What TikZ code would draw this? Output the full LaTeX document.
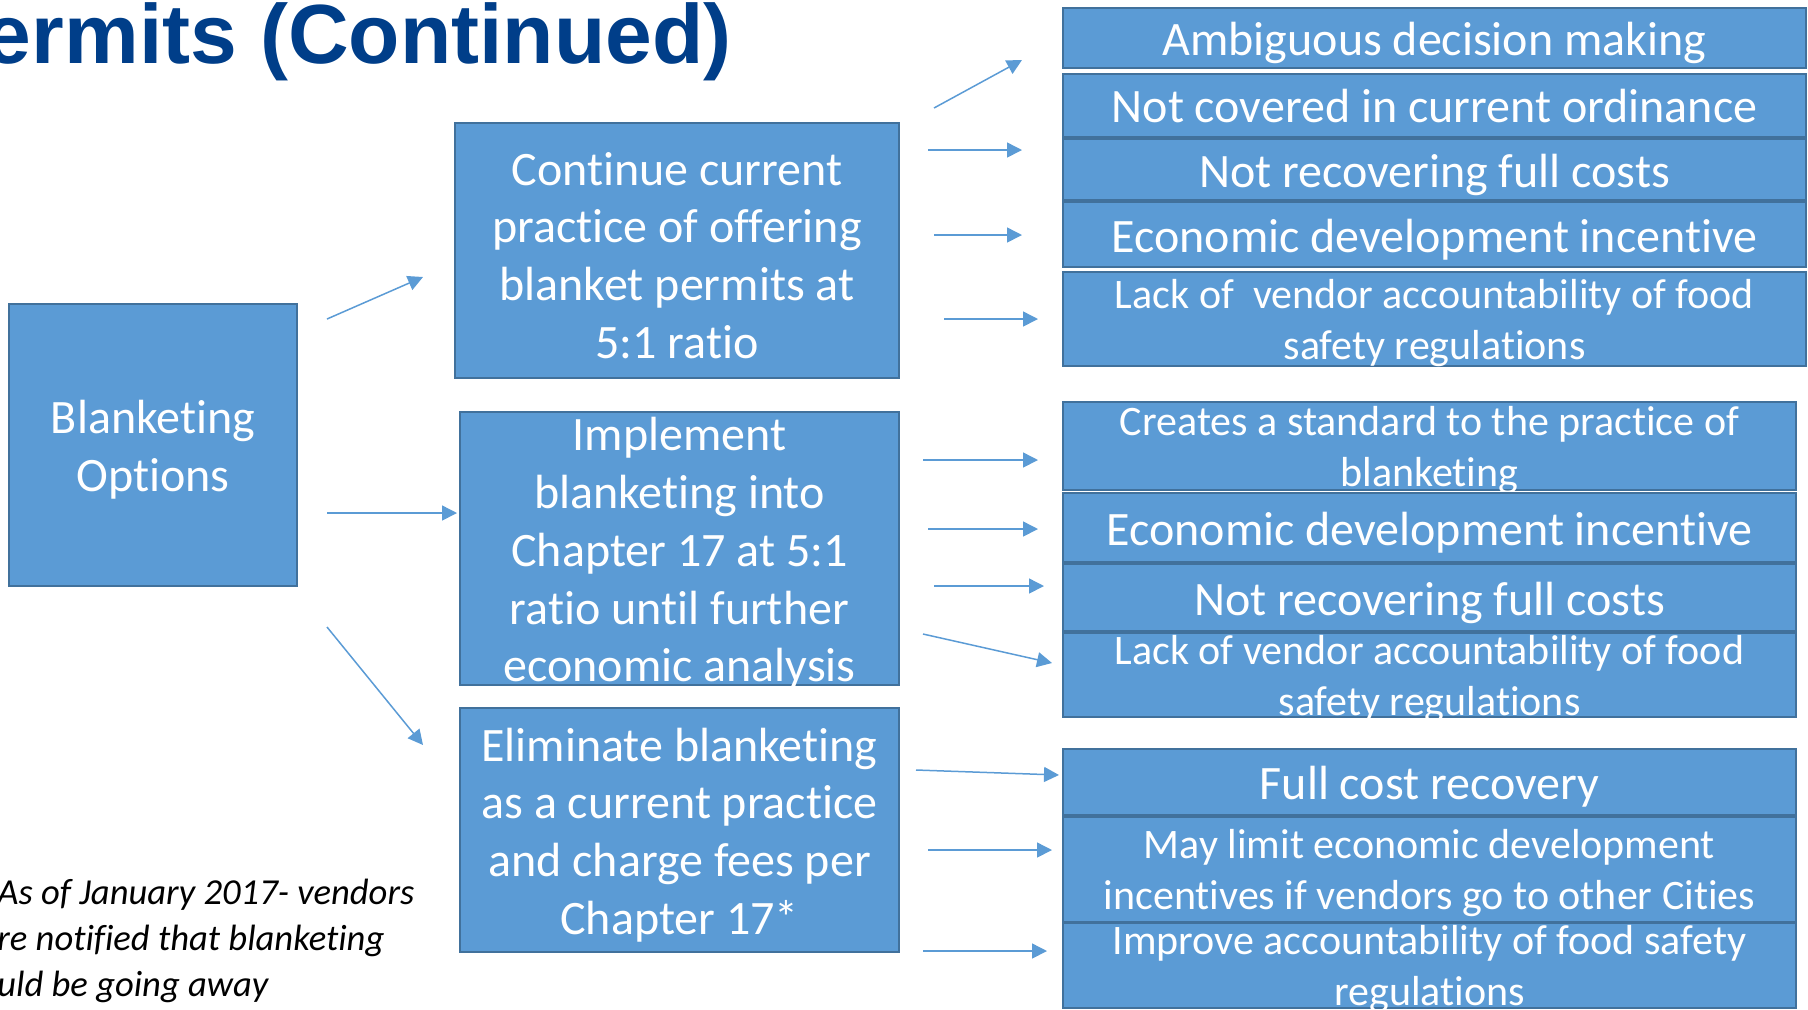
\documentclass[tikz,border=0pt]{standalone}
\usepackage{fontspec}
\setmainfont{Carlito}[Ligatures=NoCommon]
\newfontfamily\titlefont{Liberation Sans}
\usetikzlibrary{arrows.meta,positioning}

\definecolor{boxfill}{HTML}{5B9BD5}
\definecolor{boxline}{HTML}{41719C}
\definecolor{titleblue}{HTML}{003E89}

\tikzset{
  optbox/.style={draw=boxline,fill=boxfill,line width=1.3pt,inner sep=0pt},
  bigtext/.style={text=white,align=center,yshift=-2.5pt,font=\fontsize{24}{28.85}\selectfont},
  smalltext/.style={text=white,align=center,yshift=-2pt,font=\fontsize{21}{25.5}\selectfont},
  arr/.style={color=boxfill,line width=0.75pt,-{Triangle[length=7.5pt,width=7.5pt]}}
}

\begin{document}
\begin{tikzpicture}[x=0.5pt,y=-0.5pt]
  \useasboundingbox (0,0) rectangle (1808,1009);

  \node[anchor=base east,inner sep=0pt,text=titleblue,font=\titlefont\bfseries\fontsize{42}{50}\selectfont] (title) at (732,63) {ermits (Continued)};

  % options
  \node[optbox,minimum width=144pt,minimum height=141pt] (opts) at (153,445) {};
  \node[bigtext] (opts-t) at (opts) {Blanketing\\Options};
  \node[optbox,minimum width=222pt,minimum height=127.5pt] (cont) at (677,250.5) {};
  \node[bigtext] (cont-t) at (cont) {Continue current\\practice of offering\\blanket permits at\\5:1 ratio};
  \node[optbox,minimum width=219.5pt,minimum height=136.5pt] (impl) at (679.5,548.5) {};
  \node[bigtext] (impl-t) at (impl) {Implement\\blanketing into\\Chapter 17 at 5:1\\ratio until further\\economic analysis};
  \node[optbox,minimum width=219.5pt,minimum height=122pt] (elim) at (679.5,830) {};
  \node[bigtext] (elim-t) at (elim) {Eliminate blanketing\\as a current practice\\and charge fees per\\Chapter 17*};

  % continue current practice
  \node[optbox,minimum width=371.5pt,minimum height=30pt] (r1) at (1434.5,38) {};
  \node[bigtext] (r1-t) at (r1) {Ambiguous decision making};
  \node[optbox,minimum width=371.5pt,minimum height=31.5pt] (r2) at (1434.5,105.5) {};
  \node[bigtext,yshift=2.5pt] (r2-t) at (r2) {Not covered in current ordinance};
  \node[optbox,minimum width=371.5pt,minimum height=30.5pt] (r3) at (1434.5,169.5) {};
  \node[bigtext] (r3-t) at (r3) {Not recovering full costs};
  \node[optbox,minimum width=371.5pt,minimum height=32.5pt] (r4) at (1434.5,234.5) {};
  \node[bigtext] (r4-t) at (r4) {Economic development incentive};
  \node[optbox,minimum width=371.5pt,minimum height=47pt] (r5) at (1434.5,319) {};
  \node[smalltext] (r5-t) at (r5) {Lack of\ \ vendor accountability of food\\safety regulations};

  % implement
  \node[optbox,minimum width=366.5pt,minimum height=44pt] (m1) at (1429.5,446) {};
  \node[smalltext] (m1-t) at (m1) {Creates a standard to the practice of\\blanketing};
  \node[optbox,minimum width=366.5pt,minimum height=34.5pt] (m2) at (1429.5,527.5) {};
  \node[bigtext] (m2-t) at (m2) {Economic development incentive};
  \node[optbox,minimum width=366.5pt,minimum height=33.5pt] (m3) at (1429.5,597.5) {};
  \node[bigtext] (m3-t) at (m3) {Not recovering full costs};
  \node[optbox,minimum width=366.5pt,minimum height=42pt] (m4) at (1429.5,675) {};
  \node[smalltext] (m4-t) at (m4) {Lack of vendor accountability of food\\safety regulations};

  % eliminate
  \node[optbox,minimum width=366.5pt,minimum height=33pt] (b1) at (1429.5,782) {};
  \node[bigtext] (b1-t) at (b1) {Full cost recovery};
  \node[optbox,minimum width=366.5pt,minimum height=52.5pt] (b2) at (1429.5,869.5) {};
  \node[smalltext] (b2-t) at (b2) {May limit economic development\\incentives if vendors go to other Cities};
  \node[optbox,minimum width=366.5pt,minimum height=42.5pt] (b3) at (1429.5,965.5) {};
  \node[smalltext] (b3-t) at (b3) {Improve accountability of food safety\\regulations};

  \node[anchor=north west,align=left,inner sep=0pt,font=\itshape\fontsize{18.3}{23}\selectfont] (note) at (-3,879) {As of January 2017- vendors\\re notified that blanketing\\uld be going away};

  % arrow ends
  \coordinate (s1) at (327,319);  \coordinate (e1) at (423,277);
  \coordinate (s2) at (327,513);  \coordinate (e2) at (457,513);
  \coordinate (s3) at (327,627);  \coordinate (e3) at (423,745);
  \coordinate (s4) at (934,108);  \coordinate (e4) at (1022,60);
  \coordinate (s5) at (928,150);  \coordinate (e5) at (1022,150);
  \coordinate (s6) at (934,235);  \coordinate (e6) at (1022,235);
  \coordinate (s7) at (944,319);  \coordinate (e7) at (1038,319);
  \coordinate (s8) at (923,460);  \coordinate (e8) at (1038,460);
  \coordinate (s9) at (928,529);  \coordinate (e9) at (1038,529);
  \coordinate (s10) at (934,586); \coordinate (e10) at (1044,586);
  \coordinate (s11) at (923,634); \coordinate (e11) at (1052,663);
  \coordinate (s12) at (916,770); \coordinate (e12) at (1059,775);
  \coordinate (s13) at (928,850); \coordinate (e13) at (1052,850);
  \coordinate (s14) at (923,951); \coordinate (e14) at (1047,951);
  \path[arr]
    (s1) edge (e1)
    (s2) edge (e2)
    (s3) edge (e3)
    (s4) edge (e4)
    (s5) edge (e5)
    (s6) edge (e6)
    (s7) edge (e7)
    (s8) edge (e8)
    (s9) edge (e9)
    (s10) edge (e10)
    (s11) edge (e11)
    (s12) edge (e12)
    (s13) edge (e13)
    (s14) edge (e14);
\end{tikzpicture}
\end{document}
